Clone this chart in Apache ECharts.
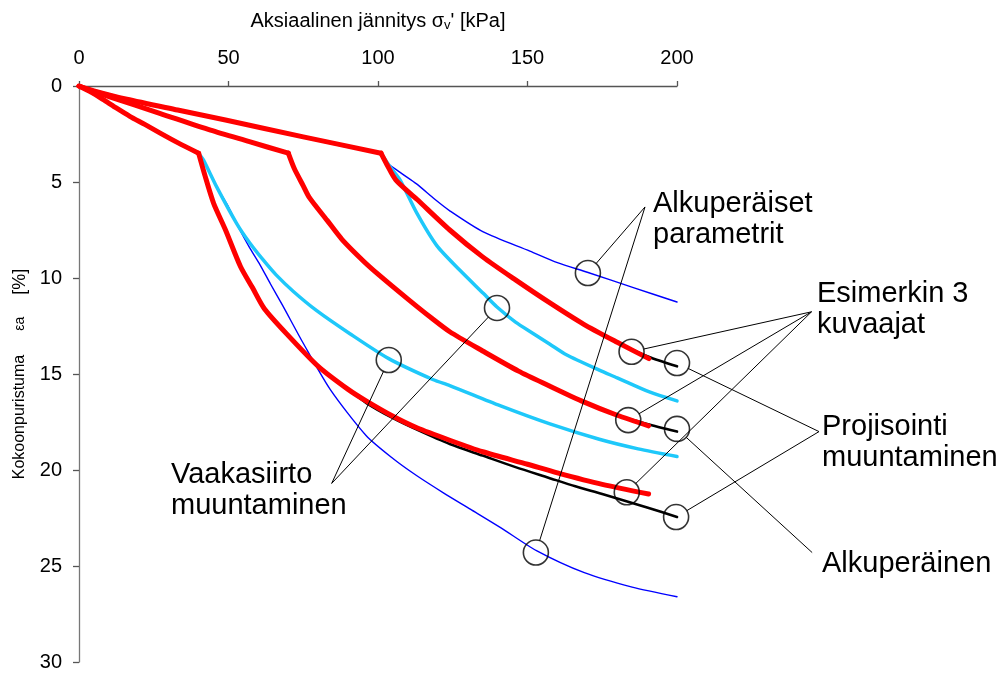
<!DOCTYPE html>
<html><head><meta charset="utf-8">
<script src="https://cdn.jsdelivr.net/npm/echarts@6/dist/echarts.min.js"></script>
<style>html,body{margin:0;padding:0;background:#fff}#c{width:999px;height:675px}</style>
</head><body><div id="c"></div>
<script>
// ---- data (x = axial stress kPa, y = compression %) ----
const loadA = [[0,0],[4,0.32],[8,0.7],[12,1.1],[17,1.58],[22,2.0],[27,2.44],[33,2.95],[40,3.5]];
const loadB = [[0,0],[5,0.3],[10,0.55],[27,1.42],[44,2.3],[57,2.9],[70,3.5]];
const loadC = [[0,0],[5,0.25],[16,0.69],[33,1.25],[49,1.77],[75,2.65],[101,3.5]];

const blackPostA = [[40,3.5],[42,4.6],[45,6.1],[49,7.5],[54,9.4],[58,10.5],[62,11.6],[70,13.0],[80,14.6],[90,15.8],[96,16.5],[105,17.3],[113,17.9],[124,18.65],[135,19.25],[146,19.85],[157,20.4],[166,20.85],[175,21.25],[190,21.95],[200,22.45]];
const redPostA   = [[40,3.5],[42,4.6],[45,6.1],[49,7.5],[54,9.4],[58,10.5],[62,11.6],[70,13.0],[80,14.6],[90,15.8],[96,16.4],[105,17.2],[113,17.8],[124,18.45],[135,19.05],[150,19.7],[160,20.15],[175,20.75],[190.5,21.25]];
const blackPostB = [[70,3.5],[72,4.3],[75,5.2],[77,5.8],[83,7.0],[88,8.0],[95,9.1],[100,9.8],[110,11.1],[118,12.1],[124,12.8],[135,13.8],[147,14.85],[157,15.6],[168,16.4],[180,17.15],[190,17.6],[200,18.0]];
const redPostB   = [[70,3.5],[72,4.3],[75,5.2],[77,5.8],[83,7.0],[88,8.0],[95,9.1],[100,9.8],[110,11.1],[118,12.1],[124,12.8],[135,13.8],[147,14.85],[157,15.6],[168,16.4],[180,17.15],[190.5,17.7]];
const blackPostC = [[101,3.5],[103,4.1],[106,4.9],[113,5.9],[124,7.5],[135,8.9],[146,10.1],[157.5,11.3],[168.7,12.4],[180,13.35],[190.5,14.1],[200,14.6]];
const redPostC   = [[101,3.5],[103,4.1],[106,4.9],[113,5.9],[124,7.5],[135,8.9],[146,10.1],[157.5,11.3],[168.7,12.4],[180,13.35],[190.6,14.2]];

const cyanPostA = [[40,3.5],[41.6,3.85],[46,5.24],[52.7,7.15],[57,8.15],[61.6,9.06],[66,9.85],[71.7,10.7],[79.5,11.7],[90.6,12.9],[103.6,14.2],[118.5,15.3],[124,15.6],[140.8,16.65],[157.5,17.6],[174,18.4],[187,18.9],[200,19.3]];
const cyanPostC = [[101,3.5],[104,4.2],[107.4,4.9],[112.9,6.6],[119.6,8.3],[127.4,9.6],[135.2,10.8],[139.7,11.5],[146,12.3],[152,12.9],[157.5,13.45],[163,14.0],[174,14.8],[180,15.2],[191,15.95],[200,16.4]];

const bluePostA = [[40,3.5],[41.6,3.85],[46,5.24],[50,6.3],[53.8,7.5],[57,8.4],[60.5,9.3],[64,10.3],[68,11.4],[75,13.4],[84,15.8],[96,18.2],[105,19.4],[113,20.3],[122,21.2],[131,22.05],[141,23.0],[153,24.2],[169,25.35],[185,26.1],[200,26.6]];
const bluePostC = [[101,3.5],[101.8,3.85],[107.4,4.5],[112.9,5.1],[119,5.9],[124,6.5],[135.2,7.6],[150.8,8.6],[160,9.2],[170,9.7],[185.4,10.5],[200,11.25]];

// annotation circles (data coords)
const circleData = [[170.2,9.74],[152.8,24.3],[139.8,11.56],[103.6,14.27],[184.8,13.84],[183.7,17.4],[183.2,21.16],[200,14.43],[200,17.86],[199.7,22.45]];
// leader anchors (data coords) and the circles they point to
const anchorParam = [189.3,6.3],  param_targets = [0,1];
const anchorVaaka = [84.5,20.7],  vaaka_targets = [2,3];
const anchorEsim  = [245,11.76],  esim_targets  = [4,5,6];
const anchorProj  = [247.5,18.0], proj_targets  = [7,9];
const anchorAlku  = [245.2,24.3], alku_targets  = [8];

const labelTexts = ['Alkuperäiset\nparametrit','Vaakasiirto\nmuuntaminen','Esimerkin 3\nkuvaajat','Projisointi\nmuuntaminen','Alkuperäinen'];
const labelPos = [[653,188],[171,459],[817,278],[822,411],[822,548]];

const FONT = '"Liberation Sans", Arial, sans-serif';
const chart = echarts.init(document.getElementById('c'));

function ls(name, data, color, width, z, smooth){
  return {type:'line', name, data, showSymbol:false, symbol:'none', smooth:smooth||false, z, silent:true,
    lineStyle:{color, width, join:'round', cap:'round'}, animation:false};
}
const SM = 0.25;
const series = [
  ls('blueA', bluePostA, '#0000FF', 1.4, 1, SM),
  ls('blueC', bluePostC, '#0000FF', 1.4, 1, SM),
  ls('cyanLA', loadA, '#1EC8FA', 3.5, 2, SM),
  ls('cyanLC', loadC, '#1EC8FA', 3.5, 2, SM),
  ls('cyanA', cyanPostA, '#1EC8FA', 3.5, 2, SM),
  ls('cyanC', cyanPostC, '#1EC8FA', 3.5, 2, SM),
  ls('blackLA', loadA, '#000000', 2.6, 3, SM),
  ls('blackLB', loadB, '#000000', 2.6, 3, SM),
  ls('blackLC', loadC, '#000000', 2.6, 3, SM),
  ls('blackA', blackPostA, '#000000', 2.6, 3, SM),
  ls('blackB', blackPostB, '#000000', 2.6, 3, SM),
  ls('blackC', blackPostC, '#000000', 2.6, 3, SM),
  ls('redLA', loadA, '#FF0000', 5, 4, SM),
  ls('redLB', loadB, '#FF0000', 5, 4, SM),
  ls('redLC', loadC, '#FF0000', 5, 4, SM),
  ls('redA', redPostA, '#FF0000', 5, 4, SM),
  ls('redB', redPostB, '#FF0000', 5, 4, SM),
  ls('redC', redPostC, '#FF0000', 5, 4, SM),
  {type:'scatter', data:circleData, symbol:'circle', symbolSize:25, z:6, silent:true, clip:false,
   itemStyle:{color:'rgba(0,0,0,0)', borderColor:'#000', borderWidth:1.6}, animation:false}
];

chart.setOption({
  animation:false,
  backgroundColor:'#fff',
  grid:{left:79, right:322, top:86, bottom:13, containLabel:false, outerBoundsMode:'none'},
  xAxis:{type:'value', position:'top', min:0, max:200, interval:50,
    name:'{n|Aksiaalinen jännitys σ}{sub|v}{n|\' [kPa]}', nameLocation:'middle', nameGap:54,
    nameTextStyle:{fontSize:20, color:'#000', fontFamily:FONT,
      rich:{n:{fontSize:20, fontFamily:FONT, color:'#000'}, sub:{fontSize:13, fontFamily:FONT, color:'#000', padding:[8,0,0,0]}}},
    axisLine:{show:true, onZero:false, lineStyle:{color:'#555', width:1.3}},
    axisTick:{show:true, length:5, lineStyle:{color:'#555', width:1.3}},
    axisLabel:{fontSize:20, color:'#000', fontFamily:FONT, margin:18},
    splitLine:{show:false}},
  yAxis:{type:'value', inverse:true, min:0, max:30, interval:5,
    name:'{n|Kokoonpuristuma}{s|εa}{b|[%]}', nameLocation:'middle', nameGap:50, nameRotate:90,
    nameTextStyle:{fontSize:16, color:'#000', fontFamily:FONT,
      rich:{n:{fontSize:16, fontFamily:FONT, color:'#000'},
            s:{fontSize:14, fontFamily:FONT, color:'#000', padding:[0,22,0,24]},
            b:{fontSize:18, fontFamily:FONT, color:'#000'}}},
    axisLine:{show:true, onZero:false, lineStyle:{color:'#777', width:1.3}},
    axisTick:{show:true, length:6, lineStyle:{color:'#555', width:1.3}},
    axisLabel:{fontSize:20, color:'#000', fontFamily:FONT, margin:17},
    splitLine:{show:false}},
  series
});

// leader lines & labels
const R = 12.5;
const graphics = [];
function leaders(anchor, targets){
  const a = chart.convertToPixel({gridIndex:0}, anchor);
  targets.forEach(i=>{
    const c = chart.convertToPixel({gridIndex:0}, circleData[i]);
    const dx = a[0]-c[0], dy = a[1]-c[1], d = Math.hypot(dx,dy);
    const e = [c[0]+dx/d*R, c[1]+dy/d*R];
    graphics.push({type:'line', silent:true, z:10, shape:{x1:a[0], y1:a[1], x2:e[0], y2:e[1]}, style:{stroke:'#000', lineWidth:1}});
  });
}
leaders(anchorParam, param_targets);
leaders(anchorVaaka, vaaka_targets);
leaders(anchorEsim, esim_targets);
leaders(anchorProj, proj_targets);
leaders(anchorAlku, alku_targets);
labelTexts.forEach((t,i)=>{
  graphics.push({type:'text', silent:true, z:10, left:labelPos[i][0], top:labelPos[i][1],
    style:{text:t, fill:'#000', font:'29px '+FONT, lineHeight:31}});
});
chart.setOption({graphic:graphics});
</script></body></html>
